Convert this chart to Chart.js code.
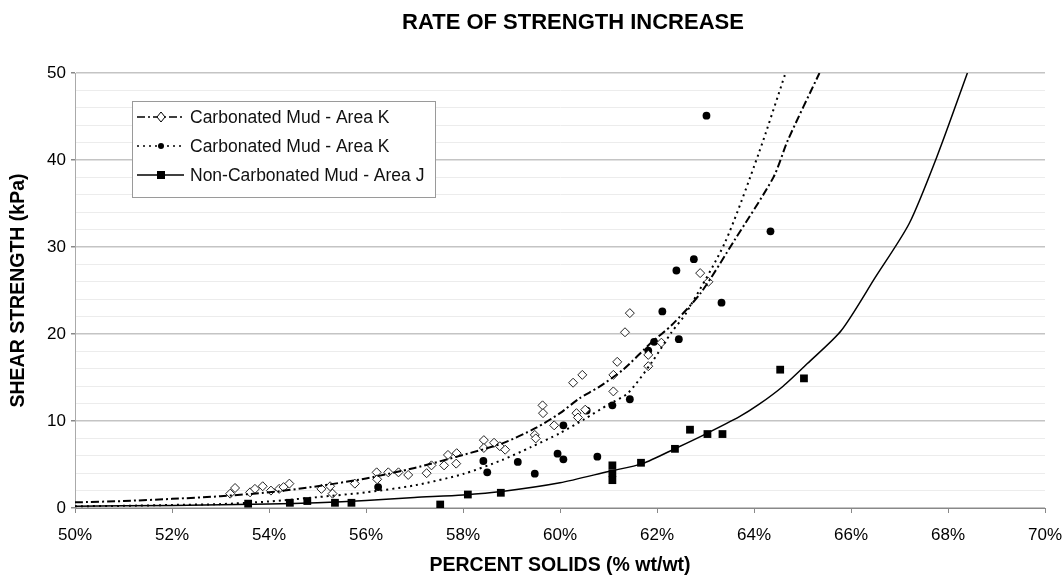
<!DOCTYPE html>
<html>
<head>
<meta charset="utf-8">
<script src="https://cdn.jsdelivr.net/npm/chart.js@4/dist/chart.umd.min.js"></script>
<style>
  body { margin: 0; background: #fff; }
  #wrap { width: 1062px; height: 578px; }
</style>
</head>
<body>
<div id="wrap"><canvas id="chart" width="1062" height="578"></canvas></div>
<script>
// measured points - carbonated mud, area K (open diamonds)
const diamondX = [53.30, 53.20, 53.61, 53.71, 53.87, 54.04, 54.21, 54.30, 54.42, 55.08, 55.26, 55.31, 55.77,
  56.22, 56.23, 56.46, 56.67, 56.87, 57.25, 57.35, 57.61, 57.69, 57.86, 57.87, 58.43, 58.43, 58.64, 58.76,
  58.87, 59.48, 59.50, 59.64, 59.65, 59.88, 60.27, 60.46, 60.34, 60.37, 60.52, 61.10, 61.10, 61.18, 61.34,
  61.44, 61.82, 61.82, 62.09, 62.89, 63.06];
const diamondY = [2.3, 1.65, 1.8, 2.2, 2.5, 2.0, 2.2, 2.4, 2.8, 2.2, 2.5, 1.65, 2.8,
  4.1, 3.3, 4.1, 4.1, 3.8, 4.0, 4.9, 4.9, 6.1, 5.1, 6.3, 7.8, 6.9, 7.5, 7.1,
  6.7, 8.4, 8.0, 11.8, 10.9, 9.5, 14.4, 15.3, 10.9, 10.4, 11.3, 13.4, 15.3, 16.8, 20.2,
  22.4, 17.6, 16.3, 19.0, 27.0, 26.0];

// measured points - carbonated mud, area K (filled circles)
const circleX = [56.25, 58.42, 58.50, 59.13, 59.48, 59.95, 60.07, 60.07, 60.55, 60.77, 61.08, 61.44,
  61.82, 61.94, 62.11, 62.45, 62.40, 62.76, 63.33, 64.34, 63.02];
const circleY = [2.4, 5.4, 4.1, 5.3, 3.95, 6.25, 5.6, 9.5, 11.2, 5.9, 11.8, 12.5,
  18.1, 19.1, 22.6, 19.4, 27.3, 28.6, 23.6, 31.8, 45.1];

// measured points - non-carbonated mud, area J (filled squares)
const squareX = [53.57, 54.43, 54.79, 55.36, 55.70, 57.53, 58.10, 58.78, 61.08, 61.08, 61.08, 61.67,
  62.37, 62.68, 63.04, 63.35, 64.54, 65.03];
const squareY = [0.5, 0.6, 0.8, 0.6, 0.6, 0.4, 1.55, 1.75, 4.9, 4.0, 3.2, 5.2,
  6.8, 9.0, 8.5, 8.5, 15.9, 14.9];

// trend curves
const fitDiamondX = [50, 51, 52, 53, 54, 55, 56, 57, 58, 58.8, 59.5, 60, 60.4, 60.8, 61.3, 61.9, 62.3, 62.9, 63.6, 64.4, 64.7, 65.35];
const fitDiamondY = [0.65, 0.8, 1.05, 1.35, 1.8, 2.5, 3.4, 4.6, 6.1, 7.4, 9.2, 10.9, 12.6, 13.9, 15.9, 19.1, 21.0, 24.7, 30.8, 38.0, 42.3, 50];

const fitCircleX = [50, 51, 52, 53, 54, 55, 56, 57, 58, 58.8, 59.4, 60, 60.5, 61, 61.4, 61.9, 62.3, 62.6, 63.4, 64.1, 64.65];
const fitCircleY = [0.2, 0.25, 0.35, 0.45, 0.75, 1.25, 1.8, 2.6, 3.9, 5.5, 7.0, 8.6, 10.2, 11.9, 13.2, 16.8, 20.2, 22.4, 30.5, 40.8, 50];

const fitSquareX = [50, 52, 54, 55, 56, 57, 58, 58.8, 60, 61, 61.7, 62.4, 63, 63.7, 64.1, 64.6, 65.1, 65.8, 66.5, 67.2, 67.8, 68.4];
const fitSquareY = [0.2, 0.3, 0.45, 0.6, 0.85, 1.2, 1.5, 1.9, 2.9, 4.2, 5.1, 6.9, 8.5, 10.5, 11.9, 14.0, 16.6, 20.4, 26.5, 32.7, 40.8, 50];

const xTicks = [50, 52, 54, 56, 58, 60, 62, 64, 66, 68, 70];
const yTicks = [0, 10, 20, 30, 40, 50];

const chartTitle = 'RATE OF STRENGTH INCREASE';
const legendLabels = ['Carbonated Mud - Area K', 'Carbonated Mud - Area K', 'Non-Carbonated Mud - Area J'];

const FONT = '"Liberation Sans", Arial, sans-serif';
const DASHDOT = [8, 3, 2, 3];
const DOTTED = [2, 4];

function pts(xs, ys) {
    return xs.map((x, i) => ({ x: x, y: ys[i] }));
}

// title sits a bit right of centre (over the plot), so draw it by hand
const plotTitle = {
    id: 'plotTitle',
    afterDraw(chart) {
        const ctx = chart.ctx;
        ctx.save();
        ctx.font = 'bold 22px ' + FONT;
        ctx.fillStyle = '#000';
        ctx.textAlign = 'center';
        ctx.textBaseline = 'middle';
        ctx.fillText(chartTitle, 573, 23);
        ctx.restore();
    }
};

// legend drawn inside the plot, like the original
const insideLegend = {
    id: 'insideLegend',
    afterDraw(chart) {
        const ctx = chart.ctx;
        const a = chart.chartArea;
        const bx = a.left + 57, by = a.top + 28, bw = 303, bh = 96;
        ctx.save();
        ctx.fillStyle = '#fff';
        ctx.fillRect(bx, by, bw, bh);
        ctx.strokeStyle = '#9a9a9a';
        ctx.lineWidth = 1;
        ctx.strokeRect(bx + 0.5, by + 0.5, bw, bh);

        const styles = [
            { dash: DASHDOT, width: 1.5, marker: 'diamond' },
            { dash: DOTTED, width: 1.5, marker: 'dot' },
            { dash: [], width: 1.5, marker: 'square' }
        ];
        ctx.font = '17.5px ' + FONT;
        ctx.textBaseline = 'middle';
        styles.forEach((s, i) => {
            const y = by + 16 + i * 29;
            ctx.strokeStyle = '#000';
            ctx.lineWidth = s.width;
            ctx.setLineDash(s.dash);
            ctx.beginPath();
            ctx.moveTo(bx + 5, y);
            ctx.lineTo(bx + 52, y);
            ctx.stroke();
            ctx.setLineDash([]);
            const mx = bx + 29;
            ctx.lineWidth = 1;
            if (s.marker === 'diamond') {
                ctx.fillStyle = '#fff';
                ctx.beginPath();
                ctx.moveTo(mx, y - 5);
                ctx.lineTo(mx + 4, y);
                ctx.lineTo(mx, y + 5);
                ctx.lineTo(mx - 4, y);
                ctx.closePath();
                ctx.fill();
                ctx.stroke();
            } else if (s.marker === 'dot') {
                ctx.fillStyle = '#000';
                ctx.beginPath();
                ctx.arc(mx, y, 3, 0, Math.PI * 2);
                ctx.fill();
            } else {
                ctx.fillStyle = '#000';
                ctx.fillRect(mx - 4, y - 4, 8, 8);
            }
            ctx.fillStyle = '#111';
            ctx.fillText(legendLabels[i], bx + 58, y + 1);
        });
        ctx.restore();
    }
};

const ctx = document.getElementById('chart').getContext('2d');

new Chart(ctx, {
    type: 'scatter',
    data: {
        datasets: [
            {
                label: 'fit K diamonds',
                data: pts(fitDiamondX, fitDiamondY),
                showLine: true,
                borderColor: '#000',
                borderWidth: 2,
                borderDash: DASHDOT,
                pointRadius: 0,
                tension: 0.25
            },
            {
                label: 'fit K dots',
                data: pts(fitCircleX, fitCircleY),
                showLine: true,
                borderColor: '#000',
                borderWidth: 2,
                borderDash: DOTTED,
                pointRadius: 0,
                tension: 0.25
            },
            {
                label: 'fit J',
                data: pts(fitSquareX, fitSquareY),
                showLine: true,
                borderColor: '#000',
                borderWidth: 1.5,
                pointRadius: 0,
                tension: 0.25
            },
            {
                label: legendLabels[0],
                data: pts(diamondX, diamondY),
                pointStyle: 'rectRot',
                pointRadius: 4.5,
                pointBackgroundColor: '#fff',
                pointBorderColor: '#222',
                pointBorderWidth: 1
            },
            {
                label: legendLabels[1],
                data: pts(circleX, circleY),
                pointStyle: 'circle',
                pointRadius: 3.9,
                pointBackgroundColor: '#000',
                pointBorderColor: '#000',
                pointBorderWidth: 0
            },
            {
                label: legendLabels[2],
                data: pts(squareX, squareY),
                pointStyle: 'rect',
                pointRadius: 5.5,
                pointBackgroundColor: '#000',
                pointBorderColor: '#000',
                pointBorderWidth: 0
            }
        ]
    },
    options: {
        responsive: false,
        animation: false,
        devicePixelRatio: 1,
        layout: { padding: { left: 0, right: 0, top: 73, bottom: 0 } },
        plugins: {
            legend: { display: false },
            tooltip: { enabled: false },
            title: { display: false }
        },
        scales: {
            x: {
                type: 'linear',
                min: 50,
                max: 70,
                afterBuildTicks: (s) => { s.ticks = xTicks.map(v => ({ value: v })); },
                afterFit: (s) => { s.height = 70; s.paddingRight = 17; s.paddingLeft = 0; },
                ticks: {
                    color: '#000',
                    font: { family: FONT, size: 17 },
                    padding: 12,
                    callback: (v) => v + '%'
                },
                grid: {
                    drawOnChartArea: false,
                    drawTicks: true,
                    tickLength: 5,
                    tickColor: '#888'
                },
                border: { display: true, color: '#888', width: 1 },
                title: {
                    display: true,
                    text: 'PERCENT SOLIDS (% wt/wt)',
                    color: '#000',
                    font: { family: FONT, size: 19.5, weight: 'bold' },
                    padding: { top: 0, bottom: 0.5 }
                }
            },
            y: {
                type: 'linear',
                min: 0,
                max: 50,
                afterBuildTicks: (s) => {
                    const t = [];
                    for (let v = 0; v <= 50; v += 2) t.push({ value: v });
                    s.ticks = t;
                },
                afterFit: (s) => { s.width = 75; },
                ticks: {
                    color: '#000',
                    font: { family: FONT, size: 17 },
                    padding: 5,
                    autoSkip: false,
                    callback: (v) => (yTicks.includes(v) ? String(v) : '')
                },
                grid: {
                    color: (c) => (c.tick && c.tick.value % 10 === 0 ? '#c4c4c4' : '#ececec'),
                    lineWidth: (c) => (c.tick && c.tick.value % 10 === 0 ? 1.5 : 1),
                    tickLength: 4,
                    tickColor: (c) => (c.tick && c.tick.value % 10 === 0 ? '#888' : 'rgba(0,0,0,0)')
                },
                border: { display: true, color: '#aaa', width: 1 },
                title: {
                    display: true,
                    text: 'SHEAR STRENGTH (kPa)',
                    color: '#000',
                    font: { family: FONT, size: 19.5, weight: 'bold' },
                    padding: { top: 6.5, bottom: 0 }
                }
            }
        }
    },
    plugins: [plotTitle, insideLegend]
});
</script>
</body>
</html>
